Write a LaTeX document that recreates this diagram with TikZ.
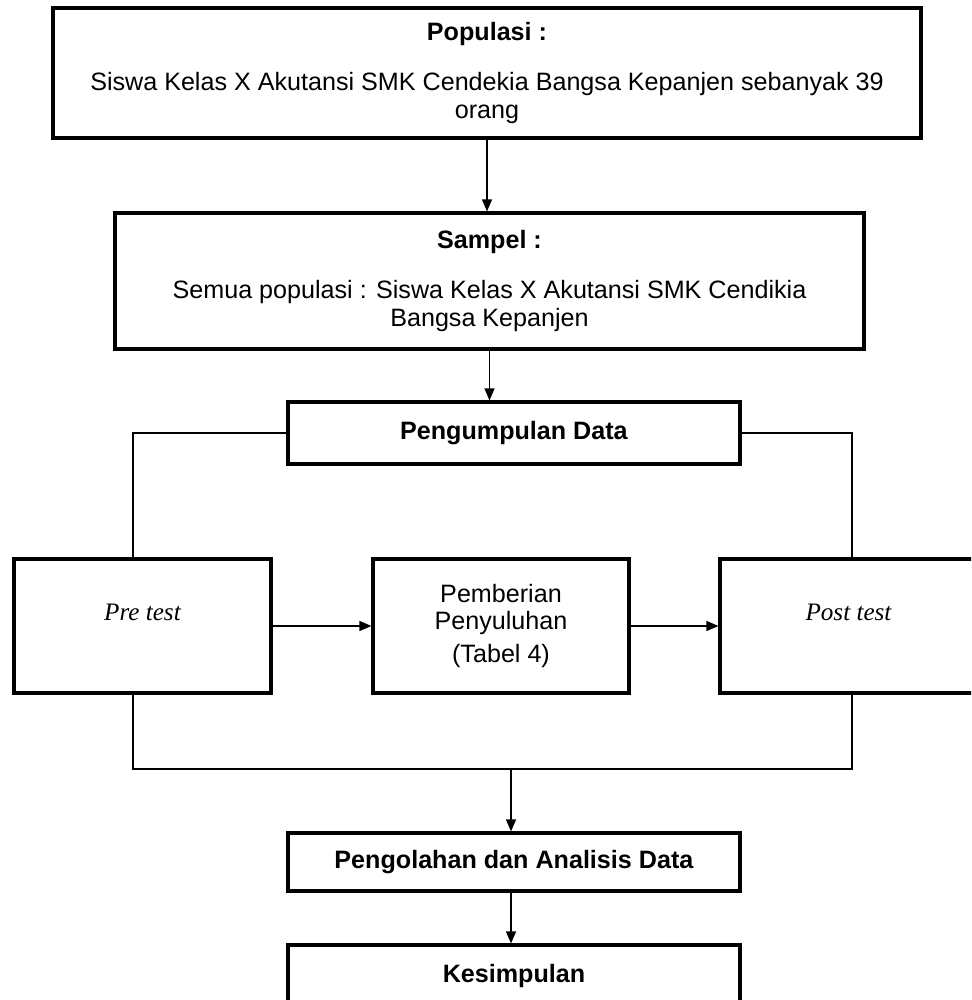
\documentclass[tikz,border=0pt]{standalone}
\usepackage{fontspec}
\setmainfont{Liberation Sans}
\newfontfamily\seriffont{Liberation Serif}
\usetikzlibrary{arrows.meta}
\begin{document}
\begin{tikzpicture}[every node/.style={rectangle, draw, line width=1.8pt, align=center, font=\fontsize{14.3}{15.5}\selectfont}, link/.style={line width=0.75pt}, arr/.style={link, -{Triangle[length=0.24cm, width=0.2cm]}}]
	\clip (0,0) rectangle (19.42,-20);
	\node[minimum width=17.36cm, minimum height=2.6cm] (pop) at (9.74, -1.46) {\textbf{Populasi :}\\[13pt]Siswa Kelas X Akutansi SMK Cendekia Bangsa Kepanjen sebanyak 39\\orang};
	\node[minimum width=14.98cm, minimum height=2.72cm] (samp) at (9.79, -5.62) {\textbf{Sampel :}\\[13pt]Semua populasi : Siswa Kelas X Akutansi SMK Cendikia\\Bangsa Kepanjen};
	\node[minimum width=9.04cm, minimum height=1.24cm] (kumpul) at (10.28, -8.66) {\textbf{Pengumpulan Data}};
	\node[minimum width=5.14cm, minimum height=2.68cm, label={[draw=none, yshift=0.28cm, font=\fontsize{14.3}{15.5}\seriffont\itshape]center:Pre test}] (pre) at (2.85, -12.52) {};
	\node[minimum width=5.12cm, minimum height=2.68cm] (beri) at (10.02, -12.52) {Pemberian\\Penyuluhan\\[3pt](Tabel 4)};
	\node[minimum width=5.14cm, minimum height=2.68cm, label={[draw=none, yshift=0.28cm, font=\fontsize{14.3}{15.5}\seriffont\itshape]center:Post test}] (post) at (16.97, -12.52) {};
	\node[minimum width=9.04cm, minimum height=1.16cm] (olah) at (10.28, -17.24) {\textbf{Pengolahan dan Analisis Data}};
	\node[minimum width=9.04cm, minimum height=1.24cm] (simpul) at (10.28, -19.52) {\textbf{Kesimpulan}};
	\coordinate (gabung) at (10.22, -15.38);
	\draw[arr] (pop.south) -- (pop.south |- samp.north);
	\draw[arr] (samp.south) -- (samp.south |- kumpul.north);
	\draw[link] (kumpul.west) -| ([xshift=-0.19cm]pre.north);
	\draw[link] (kumpul.east) -| ([xshift=0.07cm]post.north);
	\draw[arr] (pre) -- (beri);
	\draw[arr] (beri) -- (post);
	\draw[link] ([xshift=-0.19cm]pre.south) |- (gabung) -| ([xshift=0.07cm]post.south);
	\draw[arr] (gabung) -- (gabung |- olah.north);
	\draw[arr] (gabung |- olah.south) -- (gabung |- simpul.north);
\end{tikzpicture}
\end{document}
